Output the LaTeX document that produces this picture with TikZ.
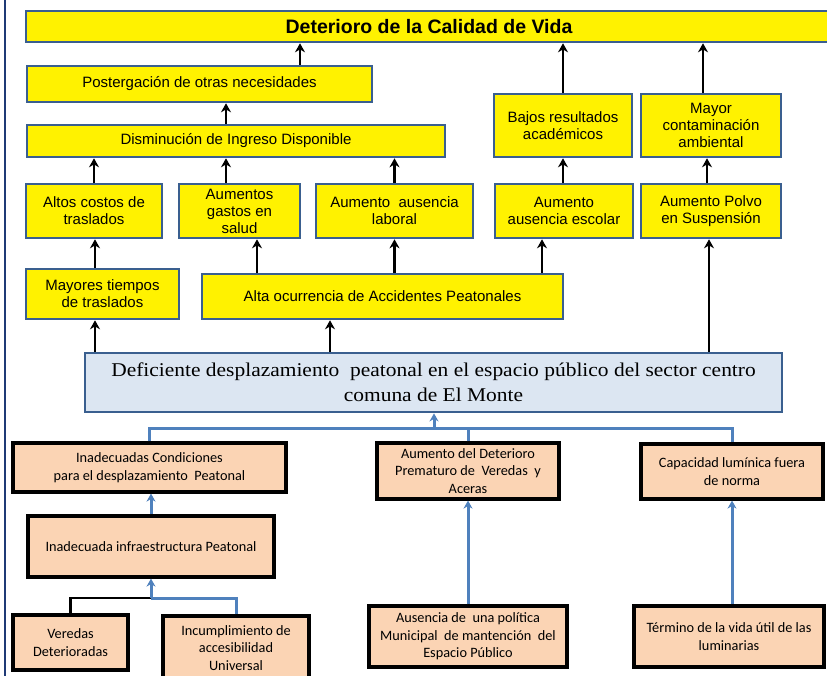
\documentclass[tikz,border=0pt]{standalone}
\usepackage{fontspec}
\setmainfont{Liberation Sans}
\newfontfamily\letraserif[FakeStretch=1.1]{Liberation Serif}
\newfontfamily\letracalibri{Carlito}
\usetikzlibrary{arrows.meta}

\definecolor{bordeazul}{HTML}{3A5F8F}
\definecolor{fondoazul}{HTML}{DCE6F2}
\definecolor{durazno}{HTML}{FBD4B4}
\definecolor{azulclaro}{HTML}{4F81BD}
\definecolor{margen}{HTML}{1F3A76}

\begin{document}
\begin{tikzpicture}[x=1pt, y=-1pt,
    efecto/.style={draw=bordeazul, line width=2.6pt, fill=yellow, align=center,
      inner sep=0pt, font=\fontsize{15}{17}\selectfont},
    problema/.style={draw=bordeazul, line width=2.8pt, fill=fondoazul, align=center,
      inner sep=0pt, font=\letraserif\fontsize{19.5}{25}\selectfont},
    causa/.style={draw=black, line width=3.2pt, fill=durazno, align=center,
      inner sep=0pt, font=\letracalibri\fontsize{14.3}{17.5}\selectfont},
    flecha/.style={-{Stealth[length=9pt, width=10pt]}, line width=2.9pt, black},
    flechaazul/.style={-{Stealth[length=8pt, width=9pt]}, line width=3pt, azulclaro},
    conectorazul/.style={line width=3pt, azulclaro},
    conectornegro/.style={line width=2.9pt, black}
  ]
  \useasboundingbox (0,0) rectangle (827,676);
  \clip (0,0) rectangle (827,676);
  \fill[white] (0,0) rectangle (827,676);
  \draw[margen, line width=1.8pt] (5,0) -- (5,676);

  % Efectos
  \node[efecto, minimum width=806pt, minimum height=31pt, font=\bfseries\fontsize{19.5}{22}\selectfont]
    (titulo) at (429,26.5) {Deterioro de la Calidad de Vida};
  \node[efecto, minimum width=345pt, minimum height=36pt] (poster) at (199.5,84)
    {Postergación de otras necesidades};
  \node[efecto, minimum width=418pt, minimum height=32pt] (dismin) at (236,141)
    {Disminución de Ingreso Disponible};
  \node[efecto, minimum width=138pt, minimum height=63pt] (bajos) at (563,125.5)
    {Bajos resultados\\académicos};
  \node[efecto, minimum width=140pt, minimum height=63pt] (mayor) at (711,125.5)
    {Mayor\\contaminación\\ambiental};

  \node[efecto, minimum width=136pt, minimum height=54pt] (altos) at (94,211)
    {Altos costos de\\traslados};
  \node[efecto, minimum width=121pt, minimum height=54pt] (gastos) at (239.5,211)
    {Aumentos\\gastos en\\salud};
  \node[efecto, minimum width=157pt, minimum height=54pt] (laboral) at (394.5,211)
    {Aumento\ \ ausencia\\laboral};
  \node[efecto, minimum width=138pt, minimum height=54pt] (escolar) at (564,211)
    {Aumento\\ausencia escolar};
  \node[efecto, minimum width=140pt, minimum height=54pt] (polvo) at (711,211)
    {Aumento Polvo\\en Suspensión};

  \node[efecto, minimum width=153pt, minimum height=50pt] (mayores) at (102.5,294)
    {Mayores tiempos\\de traslados};
  \node[efecto, minimum width=361pt, minimum height=45pt] (alta) at (382.5,296.5)
    {Alta ocurrencia de Accidentes Peatonales};

  % Problema central
  \node[problema, minimum width=697pt, minimum height=59pt] (problema) at (433.5,382.5)
    {Deficiente desplazamiento\ \ peatonal en el espacio público del sector centro\\comuna de El Monte};

  % Causas
  \node[causa, minimum width=273pt, minimum height=49pt] (condic) at (149.5,467.5)
    {Inadecuadas Condiciones\\para el desplazamiento\ \ Peatonal};
  \node[causa, minimum width=182pt, minimum height=56pt] (deterioro) at (468,471)
    {Aumento del Deterioro\\Prematuro de\ \ Veredas\ \ y\\Aceras};
  \node[causa, minimum width=182pt, minimum height=55pt] (capac) at (732,471.5)
    {Capacidad lumínica fuera\\de norma};
  \node[causa, minimum width=246pt, minimum height=61pt] (infra) at (151,546.5)
    {Inadecuada infraestructura Peatonal};
  \node[causa, minimum width=115pt, minimum height=55pt] (veredas) at (70.5,642.5)
    {Veredas\\Deterioradas};
  \node[causa, minimum width=146pt, minimum height=64pt] (incumpl) at (236,648)
    {Incumplimiento de\\accesibilidad\\Universal};
  \node[causa, minimum width=198pt, minimum height=61pt] (ausencia) at (468,636.5)
    {Ausencia de\ \ una política\\Municipal\ \ de mantención\ \ del\\Espacio Público};
  \node[causa, minimum width=190pt, minimum height=61pt] (termino) at (729,636.5)
    {Término de la vida útil de las\\luminarias};

  % Flechas de efectos
  \draw[flecha] ([xshift=100.5pt]poster.north) -- ([xshift=100.5pt]poster.north |- titulo.south);
  \draw[flecha] ([xshift=-10pt]dismin.north) -- ([xshift=-10pt]dismin.north |- poster.south);
  \draw[flecha] (bajos.north) -- (bajos.north |- titulo.south);
  \draw[flecha] ([xshift=-8pt]mayor.north) -- ([xshift=-8pt]mayor.north |- titulo.south);
  \draw[flecha] (altos.north) -- (altos.north |- dismin.south);
  \draw[flecha] ([xshift=-13.5pt]gastos.north) -- ([xshift=-13.5pt]gastos.north |- dismin.south);
  \draw[flecha] (laboral.north) -- (laboral.north |- dismin.south);
  \draw[flecha] ([xshift=-1pt]escolar.north) -- ([xshift=-1pt]escolar.north |- bajos.south);
  \draw[flecha] ([xshift=-4pt]polvo.north) -- ([xshift=-4pt]polvo.north |- mayor.south);
  \draw[flecha] ([xshift=-7.5pt]mayores.north) -- ([xshift=-7.5pt]mayores.north |- altos.south);
  \draw[flecha] ([xshift=17.5pt]gastos.south |- alta.north) -- ([xshift=17.5pt]gastos.south);
  \draw[flecha] (laboral.south |- alta.north) -- (laboral.south);
  \draw[flecha] ([xshift=-22pt]escolar.south |- alta.north) -- ([xshift=-22pt]escolar.south);
  \draw[flecha] ([xshift=-7.5pt]mayores.south |- problema.north) -- ([xshift=-7.5pt]mayores.south);
  \draw[flecha] ([xshift=-52.5pt]alta.south |- problema.north) -- ([xshift=-52.5pt]alta.south);
  \draw[flecha] ([xshift=-2pt]polvo.south |- problema.north) -- ([xshift=-2pt]polvo.south);

  % Conectores de causas
  \coordinate (union) at (434,428);
  \coordinate (union2) at (151,598);
  \draw[conectorazul] (condic.north) |- (union) -| (capac.north);
  \draw[conectorazul] (deterioro.north) |- (union);
  \draw[flechaazul] (union) -- (union |- problema.south);
  \draw[flechaazul] (infra.north) -- (infra.north |- condic.south);
  \draw[conectornegro] (veredas.north) |- (union2);
  \draw[conectorazul] (incumpl.north) |- (union2);
  \draw[flechaazul] (union2) -- (infra.south);
  \draw[flechaazul] (ausencia.north) -- (deterioro.south);
  \draw[flechaazul] ([xshift=3pt]termino.north) -- ([xshift=3pt]termino.north |- capac.south);
\end{tikzpicture}
\end{document}
